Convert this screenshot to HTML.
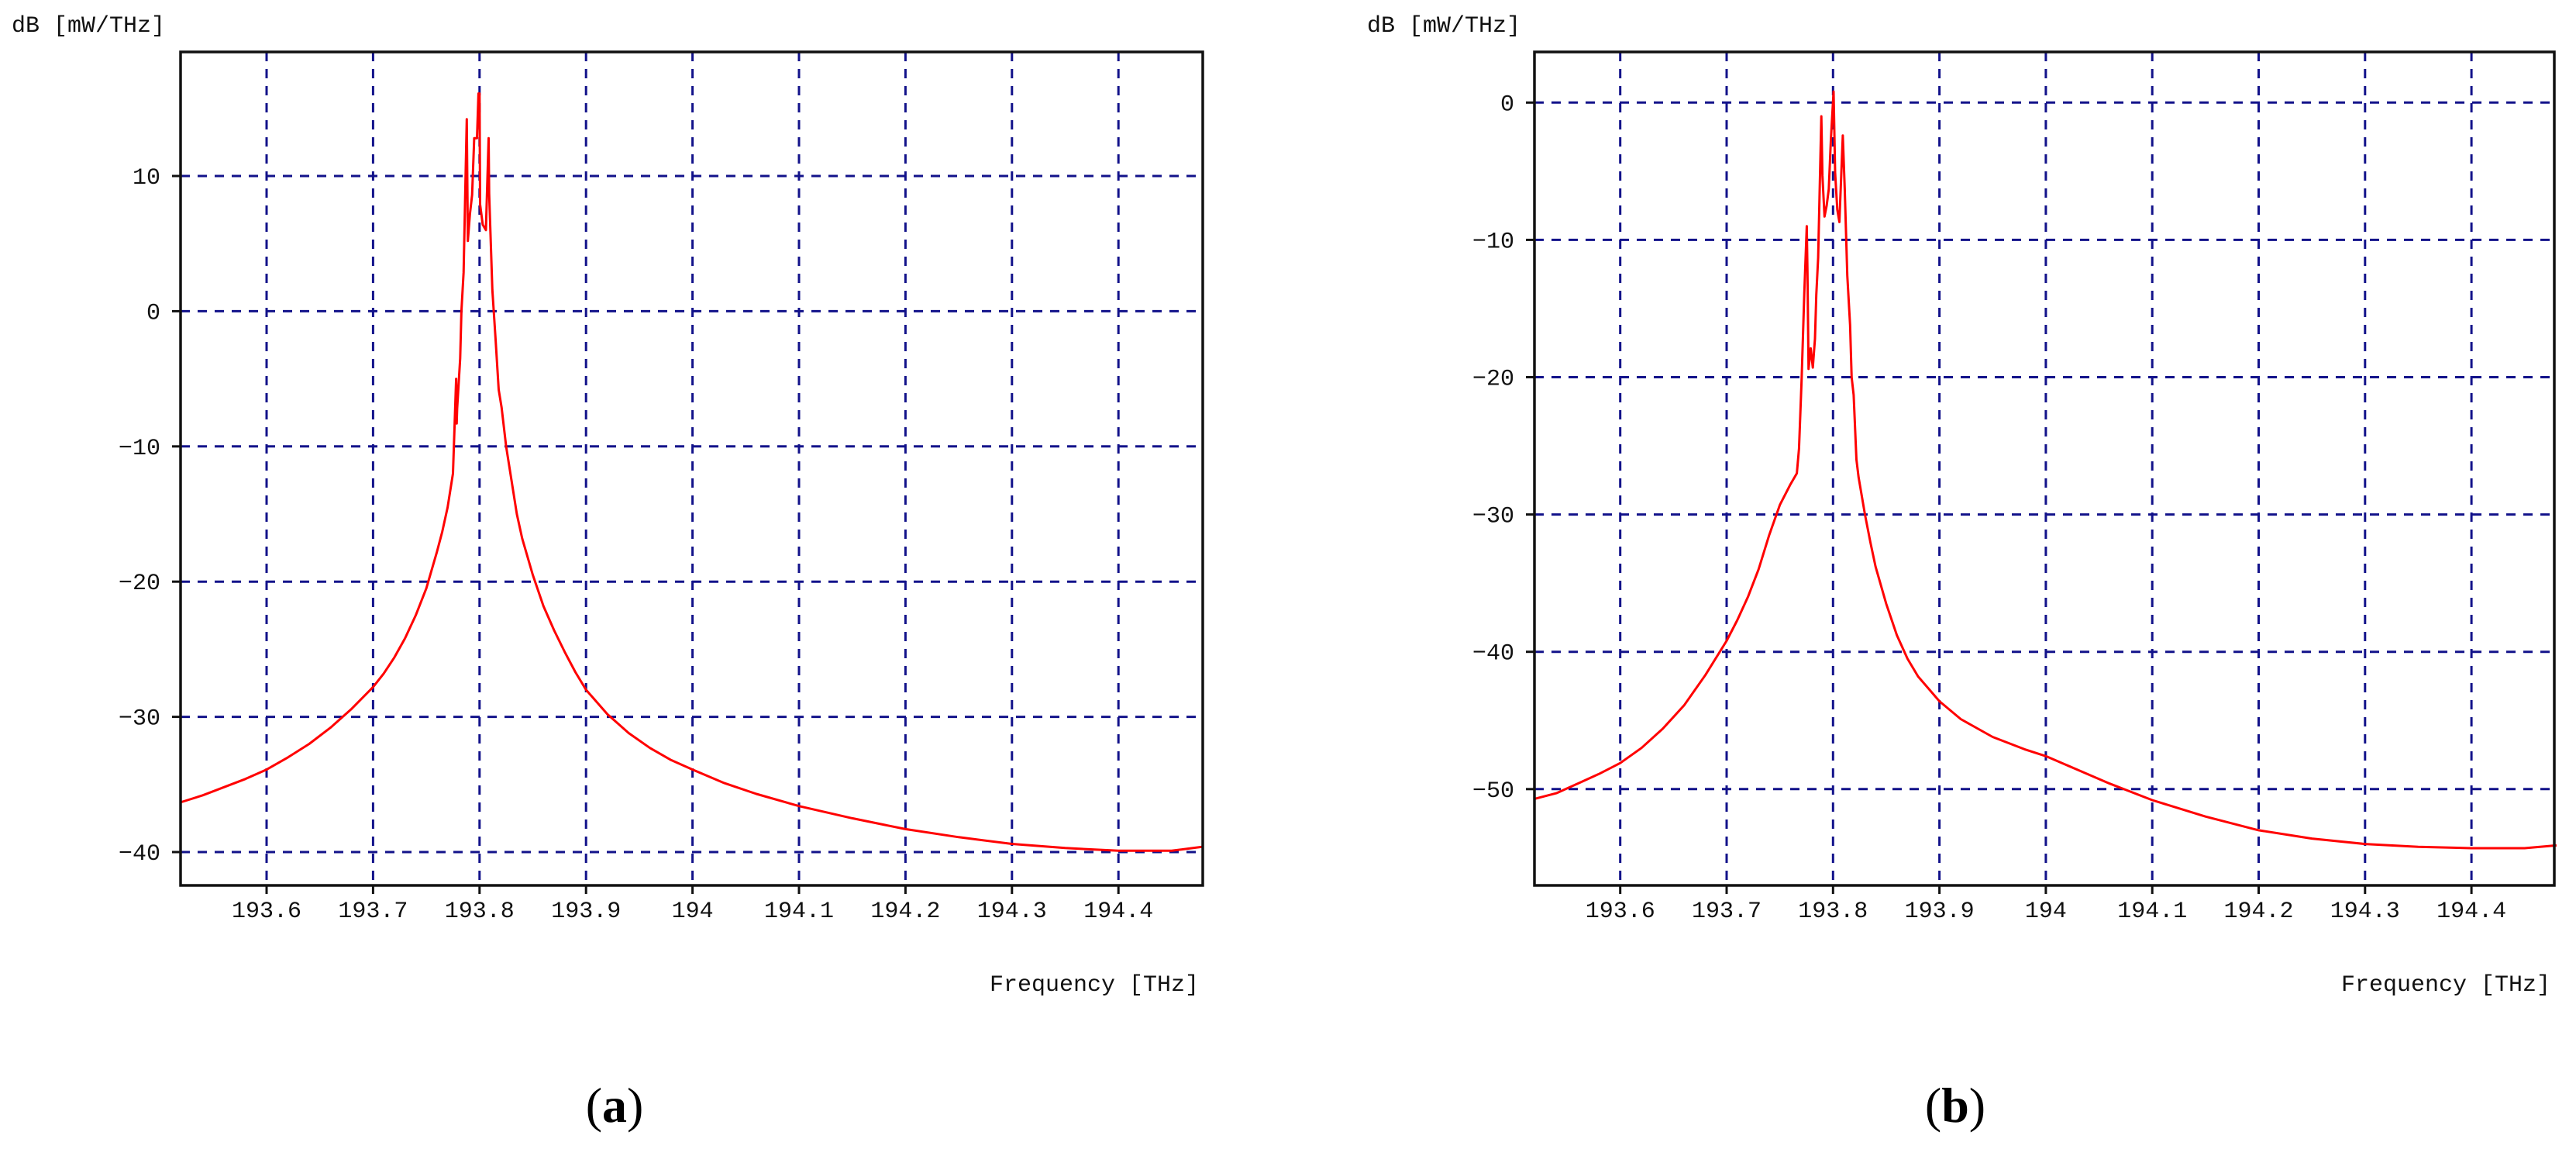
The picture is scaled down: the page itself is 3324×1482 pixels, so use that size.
<!DOCTYPE html>
<html><head><meta charset="utf-8"><style>
html,body{margin:0;padding:0;background:#fff;}
svg{display:block;}
.mono{font-family:"Liberation Mono",monospace;font-size:30px;fill:#111;}
.cap{font-family:"Liberation Serif",serif;font-size:64px;fill:#000;}
</style></head><body>
<svg id="fig" width="3324" height="1482" viewBox="0 0 3324 1482" xmlns="http://www.w3.org/2000/svg">
<text class="cap" x="793" y="1447" text-anchor="middle">(<tspan font-weight="bold">a</tspan>)</text>
<text class="cap" x="2523" y="1447" text-anchor="middle">(<tspan font-weight="bold">b</tspan>)</text>
</svg>
<script>
const xTicks = [193.6,193.7,193.8,193.9,194.0,194.1,194.2,194.3,194.4];
const xTickLabels = ["193.6","193.7","193.8","193.9","194","194.1","194.2","194.3","194.4"];
const yTicksA = [10,0,-10,-20,-30,-40];
const yTicksB = [0,-10,-20,-30,-40,-50];
const freqA = [193.52,193.54,193.56,193.58,193.6,193.62,193.64,193.66,193.68,193.7,193.71,193.72,193.73,193.74,193.75,193.76,193.765,193.77,193.775,193.778,193.7785,193.779,193.7818,193.783,193.785,193.788,193.789,193.791,193.793,193.795,193.7976,193.799,193.8,193.8005,193.803,193.806,193.8085,193.809,193.812,193.815,193.818,193.8207,193.825,193.83,193.835,193.84,193.85,193.86,193.87,193.88,193.89,193.9,193.92,193.94,193.96,193.98,194.0,194.03,194.06,194.1,194.15,194.2,194.25,194.3,194.35,194.4,194.45,194.48];
const dbA = [-36.3,-35.8,-35.2,-34.6,-33.9,-33.0,-32.0,-30.8,-29.4,-27.8,-26.8,-25.6,-24.2,-22.5,-20.5,-17.8,-16.3,-14.5,-12,-5,-8.3,-7.2,-3.5,0,2.85,14.2,5.2,7.2,8.6,12.8,12.8,16.1,16.1,7.9,6.4,6.0,12.8,8.7,1.6,-2.0,-5.8,-7.1,-10,-12.5,-15,-16.8,-19.5,-21.8,-23.6,-25.2,-26.7,-28,-29.8,-31.2,-32.3,-33.2,-33.9,-34.9,-35.7,-36.6,-37.5,-38.3,-38.9,-39.4,-39.7,-39.9,-39.9,-39.6];
const freqB = [193.52,193.54,193.56,193.58,193.6,193.62,193.64,193.66,193.68,193.7,193.71,193.72,193.73,193.74,193.75,193.76,193.766,193.768,193.7705,193.773,193.7753,193.776,193.777,193.779,193.781,193.783,193.7843,193.786,193.789,193.790,193.792,193.794,193.796,193.798,193.8005,193.802,193.804,193.806,193.8092,193.811,193.8134,193.816,193.8175,193.8194,193.822,193.824,193.83,193.835,193.84,193.85,193.86,193.87,193.88,193.9,193.92,193.95,193.98,194.0,194.03,194.06,194.1,194.15,194.2,194.25,194.3,194.35,194.4,194.45,194.48];
const dbB = [-50.7,-50.3,-49.6,-48.9,-48.1,-47.0,-45.6,-43.9,-41.7,-39.2,-37.7,-36.0,-34.0,-31.5,-29.3,-27.8,-27,-25.2,-20.1,-13.9,-9.0,-12.3,-19.4,-17.9,-19.3,-17.2,-14.0,-11.3,-1.0,-5.3,-8.3,-7.5,-6.3,-2.6,0.8,-5.1,-7.8,-8.7,-2.4,-6.3,-12.6,-16.2,-20,-21.3,-26,-27.3,-30,-32,-33.8,-36.5,-38.8,-40.5,-41.8,-43.6,-44.9,-46.2,-47.1,-47.6,-48.6,-49.6,-50.8,-52.0,-53.0,-53.6,-54.0,-54.2,-54.3,-54.3,-54.1];

const NS="http://www.w3.org/2000/svg";
const svg=document.getElementById('fig');
function mk(tag,attrs,parent){const e=document.createElementNS(NS,tag);for(const k in attrs)e.setAttribute(k,attrs[k]);(parent||svg).appendChild(e);return e;}

function chart(cfg){
  const g=mk('g',{});
  
  
  const L=cfg.left,R=cfg.right,T=67,B=1142;
  const fx=f=>cfg.x0+(f-193.6)*cfg.pxPerTHz;
  const fy=v=>cfg.y0-v*cfg.pxPerDb;
  xTicks.forEach((t,i)=>{
    const x=fx(t);
    const ln=mk('line',{x1:x,y1:T,x2:x,y2:B,stroke:'#12128a','stroke-width':3,'stroke-dasharray':'12 10'},g);
    
    
    const tk=mk('line',{x1:x,y1:B,x2:x,y2:B+11,stroke:'#111','stroke-width':3},g);
    
    
    const tx=mk('text',{x:x,y:1183,'text-anchor':'middle',class:'mono'},g);
    tx.textContent=xTickLabels[i];
    
    
  });
  cfg.yTicks.forEach(v=>{
    const y=fy(v);
    const ln=mk('line',{x1:L,y1:y,x2:R,y2:y,stroke:'#12128a','stroke-width':3,'stroke-dasharray':'12 10'},g);
    
    
    const tk=mk('line',{x1:L-11,y1:y,x2:L,y2:y,stroke:'#111','stroke-width':3},g);
    
    
    const tx=mk('text',{x:L-26,y:y+10,'text-anchor':'end',class:'mono'},g);
    tx.textContent=String(v).replace('-','\u2212');
    
    
  });
  let d='';
  cfg.freq.forEach((f,i)=>{d+=(i?'L':'M')+fx(f).toFixed(1)+' '+fy(cfg.db[i]).toFixed(1);});
  const p=mk('path',{d:d,fill:'none',stroke:'#ff0000','stroke-width':3,'stroke-linejoin':'round'},g);
  
  
  const fr=mk('rect',{x:L,y:T,width:R-L,height:B-T,fill:'none',stroke:'#111','stroke-width':3.5},g);
  
  
  const yt=mk('text',{x:cfg.ytX,y:41,class:'mono'},g);
  yt.textContent='dB [mW/THz]';
  
  
  const xt=mk('text',{x:R-5,y:1278,'text-anchor':'end',class:'mono'},g);
  xt.textContent='Frequency [THz]';
  
  
}
chart({name:'chart-a',left:233,right:1552,x0:344,pxPerTHz:1374,y0:401.4,pxPerDb:17.44,yTicks:yTicksA,freq:freqA,db:dbA,ytX:15});
chart({name:'chart-b',left:1980,right:3296,x0:2090.7,pxPerTHz:1373,y0:132.3,pxPerDb:17.71,yTicks:yTicksB,freq:freqB,db:dbB,ytX:1764});
</script>
</body></html>
